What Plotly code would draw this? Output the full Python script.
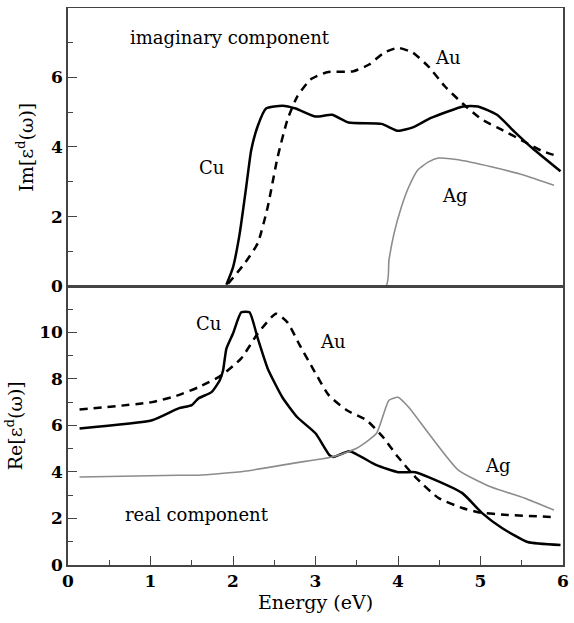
import plotly.graph_objects as go

# ---- Imaginary component (top panel) ----
cu_im_x = [1.92, 2.0, 2.08, 2.16, 2.22, 2.3, 2.4, 2.6, 2.76, 3.0, 3.2, 3.4, 3.8, 4.0, 4.18, 4.4, 4.79, 4.97, 5.2, 5.41, 5.63, 5.97]
cu_im_y = [0.05, 0.55, 1.5, 2.85, 3.9, 4.6, 5.1, 5.18, 5.1, 4.87, 4.92, 4.7, 4.66, 4.46, 4.56, 4.83, 5.16, 5.16, 4.92, 4.44, 3.96, 3.3]

au_im_x = [1.94, 2.14, 2.3, 2.42, 2.54, 2.66, 2.78, 2.94, 3.14, 3.46, 3.65, 3.83, 4.0, 4.18, 4.37, 4.57, 4.78, 5.02, 5.26, 5.53, 5.73, 5.95]
au_im_y = [0.08, 0.66, 1.24, 2.27, 3.7, 4.78, 5.45, 5.93, 6.14, 6.17, 6.36, 6.7, 6.84, 6.7, 6.3, 5.73, 5.25, 4.78, 4.49, 4.15, 3.9, 3.72]

ag_im_x = [0.0, 3.85, 3.89, 3.95, 4.04, 4.13, 4.24, 4.37, 4.49, 4.73, 5.13, 5.53, 5.89]
ag_im_y = [0.0, 0.0, 0.75, 1.5, 2.27, 2.85, 3.34, 3.57, 3.68, 3.63, 3.43, 3.19, 2.9]

# ---- Real component (bottom panel) ----
cu_re_x = [0.14, 1.02, 1.34, 1.5, 1.58, 1.74, 1.84, 1.88, 1.92, 2.0, 2.1, 2.2, 2.3, 2.42, 2.6, 2.78, 3.0, 3.17, 3.22, 3.41, 3.74, 4.0, 4.21, 4.37, 4.78, 5.02, 5.26, 5.57, 5.97]
cu_re_y = [5.87, 6.22, 6.73, 6.87, 7.16, 7.43, 7.94, 8.37, 9.3, 9.95, 10.86, 10.86, 9.74, 8.45, 7.2, 6.35, 5.66, 4.72, 4.64, 4.89, 4.29, 3.99, 3.99, 3.78, 3.09, 2.23, 1.59, 0.99, 0.86]

au_re_x = [0.14, 1.02, 1.34, 1.58, 1.86, 2.1, 2.3, 2.52, 2.66, 2.81, 2.98, 3.16, 3.38, 3.62, 3.82, 4.0, 4.21, 4.49, 4.78, 4.97, 5.33, 5.89]
au_re_y = [6.68, 7.0, 7.3, 7.64, 8.15, 8.88, 9.95, 10.8, 10.43, 9.44, 8.37, 7.3, 6.65, 6.22, 5.49, 4.64, 3.78, 2.88, 2.45, 2.27, 2.15, 2.06]

ag_re_x = [0.14, 1.34, 1.58, 2.14, 2.74, 3.2, 3.5, 3.74, 3.89, 4.0, 4.13, 4.37, 4.73, 5.13, 5.53, 5.89]
ag_re_y = [3.78, 3.86, 3.86, 4.03, 4.38, 4.64, 5.02, 5.66, 7.08, 7.21, 6.78, 5.66, 4.08, 3.35, 2.88, 2.36]

SERIF = "DejaVu Serif"
SOLID = dict(color="black", width=2.5, shape="spline", smoothing=0.5)
DASHED = dict(color="black", width=2.5, dash="8px,6px", shape="spline", smoothing=0.5)
GRAY = dict(color="#8c8c8c", width=1.6, shape="spline", smoothing=0.5)

fig = go.Figure()
fig.add_trace(go.Scatter(x=ag_im_x, y=ag_im_y, mode="lines", line=GRAY, xaxis="x", yaxis="y", cliponaxis=False))
fig.add_trace(go.Scatter(x=cu_im_x, y=cu_im_y, mode="lines", line=SOLID, xaxis="x", yaxis="y"))
fig.add_trace(go.Scatter(x=au_im_x, y=au_im_y, mode="lines", line=DASHED, xaxis="x", yaxis="y"))
fig.add_trace(go.Scatter(x=cu_re_x, y=cu_re_y, mode="lines", line=SOLID, xaxis="x2", yaxis="y2"))
fig.add_trace(go.Scatter(x=au_re_x, y=au_re_y, mode="lines", line=DASHED, xaxis="x2", yaxis="y2"))
fig.add_trace(go.Scatter(x=ag_re_x, y=ag_re_y, mode="lines", line=GRAY, xaxis="x2", yaxis="y2"))

axis_common = dict(showline=True, linecolor="#444", linewidth=1.5, mirror=True,
                   showgrid=False, zeroline=False, ticks="inside", tickcolor="#444",
                   ticklen=9, tickwidth=1.3,
                   tickfont=dict(family=SERIF, size=17, color="black", weight="bold"))

fig.update_layout(
    width=574, height=623,
    margin=dict(l=68, r=5, t=8, b=58),
    paper_bgcolor="white", plot_bgcolor="white",
    showlegend=False,
    font=dict(family=SERIF, size=17, color="black"),
    xaxis=dict(axis_common, domain=[0, 1], anchor="y", range=[0, 6], ticks="", showticklabels=False,
               linewidth=1.2),
    yaxis=dict(axis_common, domain=[0.5, 1], anchor="x", range=[0, 7.98], tickvals=[0, 2, 4, 6],
               minor=dict(tickvals=[1, 3, 5, 7], ticklen=5, ticks="inside", tickcolor="#444"),
               title=dict(text="Im[ε<sup>d</sup>(ω)]", font=dict(family=SERIF, size=19), standoff=12)),
    xaxis2=dict(axis_common, domain=[0, 1], anchor="y2", range=[0, 6], tickvals=[0, 1, 2, 3, 4, 5, 6],
                minor=dict(tickvals=[0.5, 1.5, 2.5, 3.5, 4.5, 5.5], ticklen=5, ticks="inside", tickcolor="#444"),
                title=dict(text="Energy (eV)", font=dict(family=SERIF, size=19), standoff=6)),
    yaxis2=dict(axis_common, domain=[0, 0.5], anchor="x2", range=[0, 11.97], tickvals=[0, 2, 4, 6, 8, 10],
                minor=dict(tickvals=[1, 3, 5, 7, 9, 11], ticklen=5, ticks="inside", tickcolor="#444"),
                title=dict(text="Re[ε<sup>d</sup>(ω)]", font=dict(family=SERIF, size=19), standoff=12)),
)

labels = [
    ("imaginary component", 1.96, 7.14, "x", "y"),
    ("Au", 4.6, 6.56, "x", "y"),
    ("Cu", 1.74, 3.42, "x", "y"),
    ("Ag", 4.69, 2.62, "x", "y"),
    ("Cu", 1.7, 10.39, "x2", "y2"),
    ("Au", 3.21, 9.61, "x2", "y2"),
    ("Ag", 5.21, 4.29, "x2", "y2"),
    ("real component", 1.56, 2.15, "x2", "y2"),
]
for text, lx, ly, xr, yr in labels:
    fig.add_annotation(text=text, x=lx, y=ly, xref=xr, yref=yr, showarrow=False,
                       font=dict(family=SERIF, size=18, color="black"))

fig.write_html("out.html")
